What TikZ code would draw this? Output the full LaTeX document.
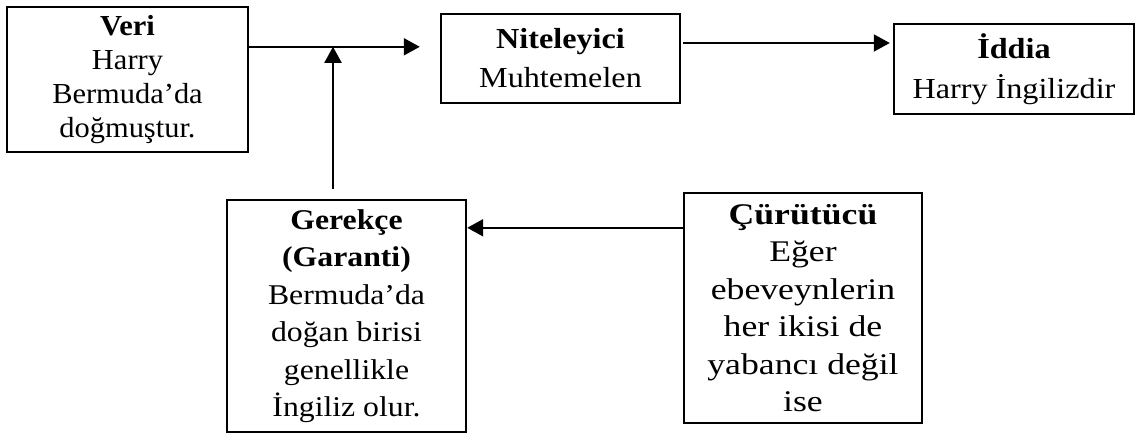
\documentclass[tikz,border=0pt]{standalone}
\usepackage{fontspec}
\setmainfont{Liberation Serif}
\newfontfamily\dar[FakeStretch=1.05]{Liberation Serif}
\newfontfamily\orta[FakeStretch=1.11]{Liberation Serif}
\newfontfamily\genis[FakeStretch=1.19]{Liberation Serif}
\usepackage{tikz}
\usetikzlibrary{positioning, calc, arrows.meta}

\begin{document}
\begin{tikzpicture}[x=0.5pt, y=-0.5pt,
    box/.style={draw=black, line width=1.2pt, align=center, inner sep=0pt},
    arr/.style={line width=1pt, -{Triangle[length=8pt, width=8.5pt]}}]
      \useasboundingbox (0,0) rectangle (1136,433); % page size
      \node[box, minimum width=120.5pt, minimum height=72.5pt,
          font={\dar\fontsize{14.5}{17}\selectfont}] (veri) at (127.5,79.5)
          {\textbf{Veri}\\Harry\\Bermuda’da\\doğmuştur.};
      \node[box, minimum width=119.5pt, minimum height=44.5pt,
          font={\orta\fontsize{14.5}{19.5}\selectfont}] (niteleyici) at (560.5,58.5)
          {\textbf{Niteleyici}\\Muhtemelen};
      \node[box, minimum width=120pt, minimum height=45pt,
          font={\orta\fontsize{14.5}{20}\selectfont}] (iddia) at (1014,69)
          {\textbf{İddia}\\Harry İngilizdir};
      \node[box, minimum width=119.5pt, minimum height=116pt,
          font={\orta\fontsize{14.3}{18.75}\selectfont}] (gerekce) at (346.5,316)
          {\textbf{Gerekçe}\\\textbf{(Garanti)}\\Bermuda’da\\doğan birisi\\genellikle\\İngiliz olur.};
      \node[box, minimum width=119pt, minimum height=115pt,
          font={\genis\fontsize{15}{18.75}\selectfont}] (curutucu) at (803,308)
          {\textbf{Çürütücü}\\Eğer\\ebeveynlerin\\her ikisi de\\yabancı değil\\ise};
      \coordinate (kavsak) at ($(gerekce.north)+(-13.5,-152)$); % meeting point
      \draw[line width=1pt] (veri.east |- kavsak) -- (kavsak);
      \draw[arr] (kavsak) -- ($(niteleyici.west |- kavsak)+(-20,0)$);
      \draw[arr] ($(gerekce.north)+(-13.5,-10)$) -- (kavsak);
      \draw[arr] ($(niteleyici.east)+(2,-15.5)$) -- ($(niteleyici.east -| iddia.west)+(-3,-15.5)$);
      \draw[arr] ($(curutucu.north west)+(0,36)$) -- (gerekce.east |- {$(curutucu.north west)+(0,36)$});
\end{tikzpicture}
\end{document}
